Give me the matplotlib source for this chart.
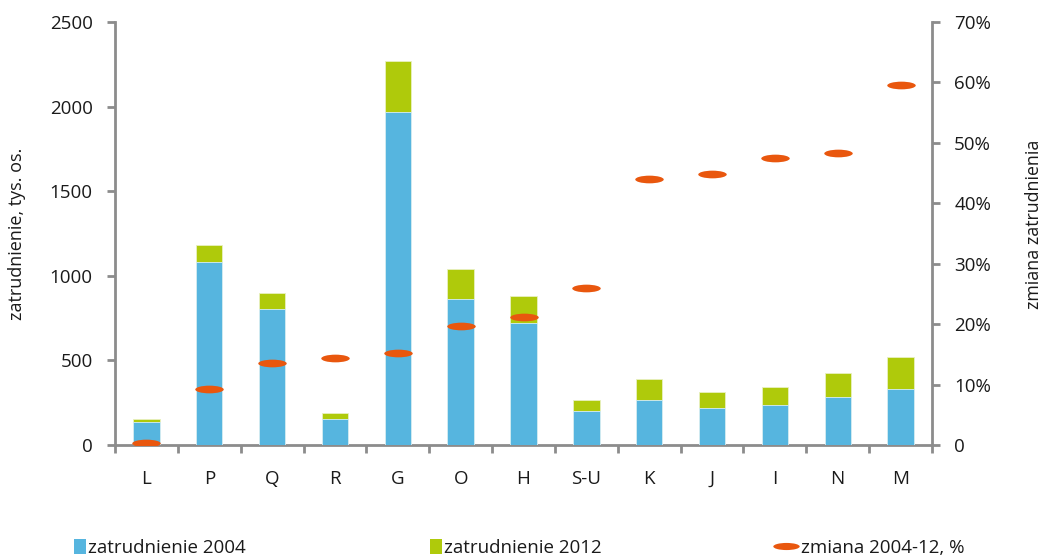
import matplotlib
matplotlib.use("Agg")
import matplotlib.pyplot as plt
from matplotlib.path import Path
from matplotlib.transforms import Affine2D
from matplotlib.lines import Line2D
from matplotlib.patches import Patch
from matplotlib.ticker import FuncFormatter, MultipleLocator

plt.rcParams['font.family'] = ['Open Sans', 'DejaVu Sans']

# Sections (PKD) and employment, thousands of persons
sections = ["L", "P", "Q", "R", "G", "O", "H", "S-U", "K", "J", "I", "N", "M"]
emp_2004 = [138, 1083, 802, 155, 1968, 865, 723, 203, 268, 219, 234, 282, 329]
emp_2012 = [155, 1180, 896, 187, 2268, 1038, 881, 266, 392, 313, 345, 424, 518]
# Change 2004-12, %
change_pct = [0.4, 9.2, 13.6, 14.4, 15.3, 19.7, 21.1, 25.9, 44.0, 44.9, 47.5, 48.4, 59.5]

BLUE = "#56B5DF"
GREEN = "#AFCA0B"
ORANGE = "#E9570E"
SPINE = "#8C8C8C"
TXT = "#1A1A1A"
FS = 13.5

W, H, DPI = 1043, 559, 100
fig = plt.figure(figsize=(W / DPI, H / DPI), dpi=DPI)
ax = fig.add_axes([115 / W, 1 - 445 / H, 817 / W, 423 / H])
ax2 = ax.twinx()

x = list(range(len(sections)))
bw = 0.42
ax.bar(x, emp_2012, width=bw, color=GREEN, edgecolor="#E8F0C0", linewidth=0.6, zorder=2)
ax.bar(x, emp_2004, width=bw, color=BLUE, edgecolor="#D8EEF8", linewidth=0.6, zorder=3)

# flattened ellipse marker
circle = Path.unit_circle()
ellipse = circle.transformed(Affine2D().scale(1.0, 0.27))
ax2.plot(x, change_pct, linestyle="none", marker=ellipse, markersize=20.5,
         color=ORANGE, markeredgewidth=0, zorder=5)

ax.set_xlim(-0.5, len(sections) - 0.5)
ax.set_ylim(0, 2500)
ax2.set_ylim(0, 70)
ax.yaxis.set_major_locator(MultipleLocator(500))
ax2.yaxis.set_major_locator(MultipleLocator(10))
ax2.yaxis.set_major_formatter(FuncFormatter(lambda v, p: "0" if v == 0 else f"{v:.0f}%"))

# category ticks sit between bars
ax.set_xticks([i - 0.5 for i in range(len(sections) + 1)])
ax.set_xticklabels([])
ax.set_xticks(x, minor=True)
ax.set_xticklabels(sections, minor=True)
ax.tick_params(axis="x", which="minor", length=0, pad=18, labelsize=FS, labelcolor=TXT)
ax.tick_params(axis="x", which="major", length=6, width=2, color=SPINE, direction="out")
ax.tick_params(axis="y", length=6, width=2, color=SPINE, pad=10, labelsize=FS, labelcolor=TXT)
ax2.tick_params(axis="y", length=6, width=2, color=SPINE, pad=10, labelsize=FS, labelcolor=TXT)

for a in (ax, ax2):
    a.spines["top"].set_visible(False)
    for s in ("left", "right", "bottom"):
        a.spines[s].set_color(SPINE)
        a.spines[s].set_linewidth(2)
    a.set_facecolor("none")
ax.spines["right"].set_visible(False)
ax2.spines["left"].set_visible(False)
ax2.spines["bottom"].set_visible(False)

ax.set_ylabel("zatrudnienie, tys. os.", fontsize=FS - 0.5, color=TXT)
ax.yaxis.set_label_coords(-0.1085, 0.5)
ax2.set_ylabel("zmiana zatrudnienia", fontsize=FS - 0.7, color=TXT, rotation=90)
ax2.yaxis.set_label_coords(1.1135, 0.522)

# legend entries placed individually along the bottom
leg_items = [
    (Patch(facecolor=BLUE, edgecolor="none"), "zatrudnienie 2004", 74),
    (Patch(facecolor=GREEN, edgecolor="none"), "zatrudnienie 2012", 430),
    (Line2D([], [], linestyle="none", marker=ellipse, markersize=19, color=ORANGE,
            markeredgewidth=0), "zmiana 2004-12, %", 772),
]
for handle, label, xpix in leg_items:
    is_line = isinstance(handle, Line2D)
    lg = fig.legend([handle], [label], loc="center left",
                    bbox_to_anchor=(xpix / W, 1 - 548 / H), frameon=False,
                    fontsize=FS, handlelength=1.45 if is_line else 0.65,
                    handleheight=0.85, handletextpad=0.12, borderpad=0, borderaxespad=0)
    for t in lg.get_texts():
        t.set_color(TXT)

fig.savefig("out.png", dpi=DPI)
